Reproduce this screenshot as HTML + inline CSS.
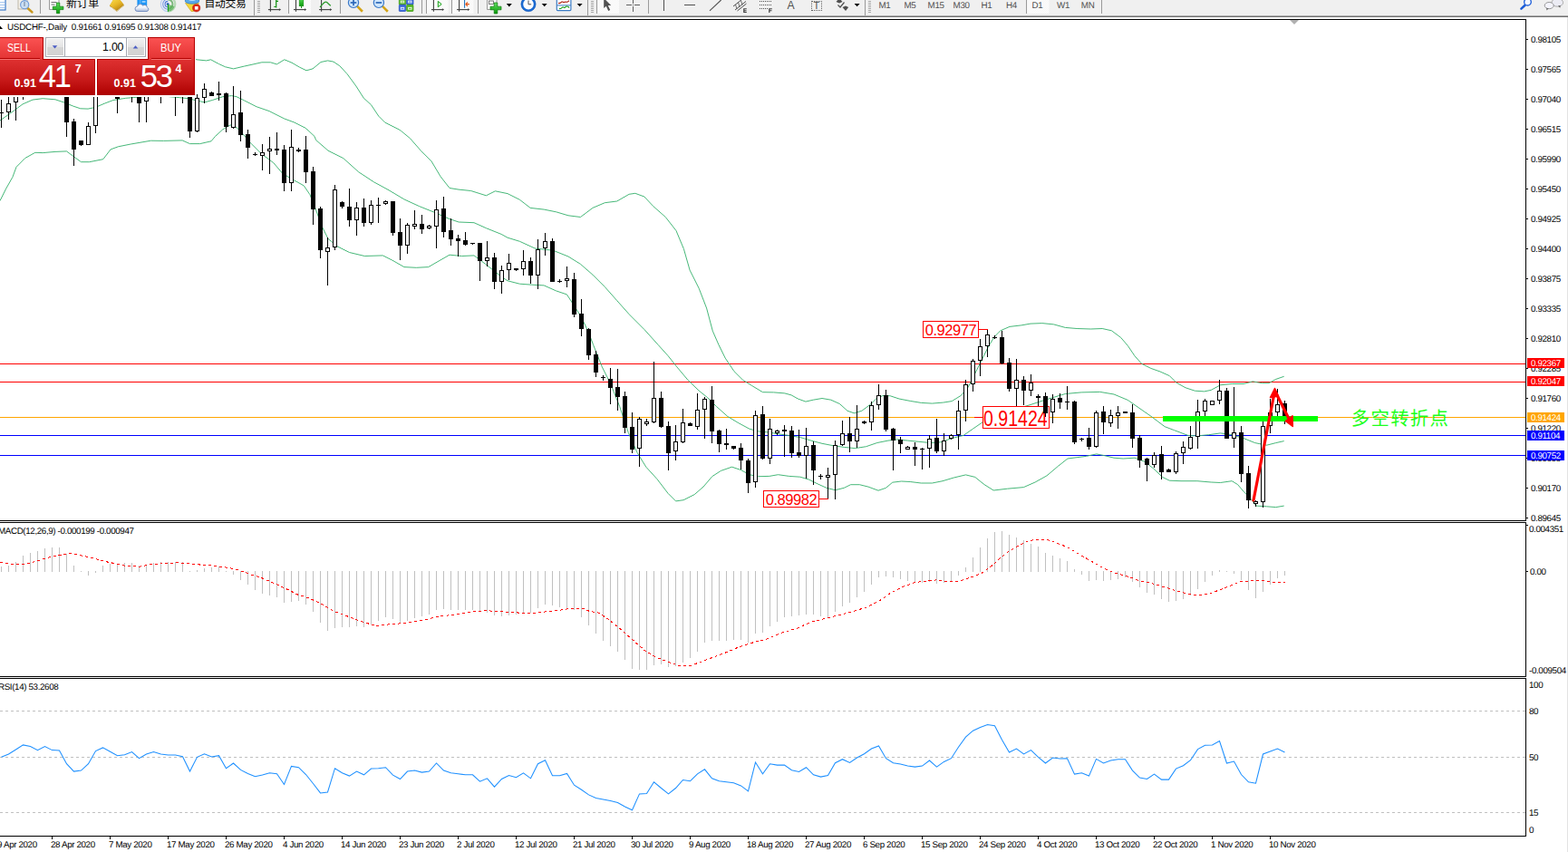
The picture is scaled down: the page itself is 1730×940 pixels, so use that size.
<!DOCTYPE html><html><head><meta charset="utf-8"><title>USDCHF Daily</title><style>
html,body{margin:0;padding:0;background:#fff;}
body{width:1730px;height:940px;overflow:hidden;position:relative;font-family:"Liberation Sans",sans-serif;color:#000;}
.abs{position:absolute;white-space:nowrap;}
.t{position:absolute;white-space:nowrap;font-size:9.8px;line-height:10px;letter-spacing:-0.37px;color:#000;margin-top:0.5px;text-rendering:geometricPrecision;}
.pl{position:absolute;left:1685px;width:41px;height:11px;box-sizing:border-box;padding-top:1px;overflow:hidden;color:#fff;font-size:9.8px;line-height:11px;letter-spacing:-0.37px;text-indent:4px;text-rendering:geometricPrecision;white-space:nowrap;}
.tf{position:absolute;top:0;font-size:10px;line-height:12px;color:#505050;white-space:nowrap;text-rendering:geometricPrecision;}
.sep{position:absolute;top:0;width:1px;height:15px;background:#a0a0a0;}
.lbl{position:absolute;box-sizing:border-box;border:1px solid #ff0000;background:#fff;color:#ff0000;white-space:nowrap;text-align:center;}
svg{position:absolute;left:0;top:0;}
</style></head><body>
<div class="abs" style="left:0;top:0;width:1730px;height:17px;background:#f0f0f0;"></div>
<div class="abs" style="left:0;top:17px;width:1730px;height:1px;background:#ababab;"></div>
<div class="abs" style="left:0;top:18px;width:1730px;height:1px;background:#707070;"></div>
<div class="abs" style="left:1729px;top:19px;width:1px;height:921px;background:#e3e3e3;"></div>
<svg width="1730" height="940" viewBox="0 0 1730 940">
<g shape-rendering="crispEdges" fill="#000">
<rect x="0" y="21" width="1684" height="1"/>
<rect x="1683" y="21" width="1" height="902"/>
<rect x="0" y="574" width="1684" height="1"/>
<rect x="0" y="576" width="1684" height="1"/>
<rect x="0" y="746" width="1684" height="1"/>
<rect x="0" y="748" width="1684" height="1"/>
<rect x="0" y="922" width="1684" height="1"/>
<rect x="1683" y="575" width="1" height="1" fill="#fff"/>
<rect x="1683" y="747" width="1" height="1" fill="#fff"/>
<rect x="1684" y="43" width="2" height="1"/>
<rect x="1684" y="76" width="2" height="1"/>
<rect x="1684" y="109" width="2" height="1"/>
<rect x="1684" y="142" width="2" height="1"/>
<rect x="1684" y="175" width="2" height="1"/>
<rect x="1684" y="208" width="2" height="1"/>
<rect x="1684" y="241" width="2" height="1"/>
<rect x="1684" y="274" width="2" height="1"/>
<rect x="1684" y="307" width="2" height="1"/>
<rect x="1684" y="340" width="2" height="1"/>
<rect x="1684" y="373" width="2" height="1"/>
<rect x="1684" y="406" width="2" height="1"/>
<rect x="1684" y="439" width="2" height="1"/>
<rect x="1684" y="472" width="2" height="1"/>
<rect x="1684" y="505" width="2" height="1"/>
<rect x="1684" y="538" width="2" height="1"/>
<rect x="1684" y="571" width="2" height="1"/>
<rect x="1684" y="579" width="2" height="1"/>
<rect x="1684" y="630" width="2" height="1"/>
<rect x="57" y="923" width="1" height="3"/>
<rect x="121" y="923" width="1" height="3"/>
<rect x="185" y="923" width="1" height="3"/>
<rect x="249" y="923" width="1" height="3"/>
<rect x="313" y="923" width="1" height="3"/>
<rect x="377" y="923" width="1" height="3"/>
<rect x="441" y="923" width="1" height="3"/>
<rect x="505" y="923" width="1" height="3"/>
<rect x="569" y="923" width="1" height="3"/>
<rect x="633" y="923" width="1" height="3"/>
<rect x="697" y="923" width="1" height="3"/>
<rect x="761" y="923" width="1" height="3"/>
<rect x="825" y="923" width="1" height="3"/>
<rect x="889" y="923" width="1" height="3"/>
<rect x="953" y="923" width="1" height="3"/>
<rect x="1017" y="923" width="1" height="3"/>
<rect x="1081" y="923" width="1" height="3"/>
<rect x="1145" y="923" width="1" height="3"/>
<rect x="1209" y="923" width="1" height="3"/>
<rect x="1273" y="923" width="1" height="3"/>
<rect x="1337" y="923" width="1" height="3"/>
<rect x="1401" y="923" width="1" height="3"/>
</g>
<g shape-rendering="crispEdges" stroke="#c0c0c0" stroke-width="1" stroke-dasharray="3 3">
<line x1="0" y1="784.5" x2="1683" y2="784.5"/>
<line x1="0" y1="835.5" x2="1683" y2="835.5"/>
<line x1="0" y1="896.5" x2="1683" y2="896.5"/>
</g>
<g shape-rendering="crispEdges">
<rect x="0" y="401" width="1683" height="1" fill="#ff0000"/>
<rect x="0" y="421" width="1683" height="1" fill="#ff0000"/>
<rect x="0" y="460" width="1683" height="1" fill="#ffa500"/>
<rect x="0" y="480" width="1683" height="1" fill="#0000ff"/>
<rect x="0" y="502" width="1683" height="1" fill="#0000ff"/>
</g>
<g shape-rendering="crispEdges" fill="#c0c0c0"><rect x="1" y="625" width="1" height="6"/><rect x="9" y="624" width="1" height="7"/><rect x="17" y="620" width="1" height="11"/><rect x="25" y="613" width="1" height="18"/><rect x="33" y="610" width="1" height="21"/><rect x="41" y="608" width="1" height="23"/><rect x="49" y="605" width="1" height="26"/><rect x="57" y="604" width="1" height="27"/><rect x="65" y="604" width="1" height="27"/><rect x="73" y="611" width="1" height="20"/><rect x="81" y="624" width="1" height="7"/><rect x="89" y="630" width="1" height="1"/><rect x="97" y="630" width="1" height="5"/><rect x="105" y="630" width="1" height="2"/><rect x="113" y="624" width="1" height="7"/><rect x="121" y="622" width="1" height="9"/><rect x="129" y="622" width="1" height="9"/><rect x="137" y="621" width="1" height="10"/><rect x="145" y="621" width="1" height="10"/><rect x="153" y="624" width="1" height="7"/><rect x="161" y="623" width="1" height="8"/><rect x="169" y="621" width="1" height="10"/><rect x="177" y="620" width="1" height="11"/><rect x="185" y="620" width="1" height="11"/><rect x="193" y="620" width="1" height="11"/><rect x="201" y="620" width="1" height="11"/><rect x="209" y="630" width="1" height="1"/><rect x="217" y="629" width="1" height="2"/><rect x="225" y="627" width="1" height="4"/><rect x="233" y="626" width="1" height="5"/><rect x="241" y="625" width="1" height="6"/><rect x="249" y="630" width="1" height="1"/><rect x="257" y="630" width="1" height="4"/><rect x="265" y="630" width="1" height="10"/><rect x="273" y="630" width="1" height="15"/><rect x="281" y="630" width="1" height="21"/><rect x="289" y="630" width="1" height="25"/><rect x="297" y="630" width="1" height="27"/><rect x="305" y="630" width="1" height="29"/><rect x="313" y="630" width="1" height="35"/><rect x="321" y="630" width="1" height="34"/><rect x="329" y="630" width="1" height="33"/><rect x="337" y="630" width="1" height="37"/><rect x="345" y="630" width="1" height="45"/><rect x="353" y="630" width="1" height="57"/><rect x="361" y="630" width="1" height="66"/><rect x="369" y="630" width="1" height="63"/><rect x="377" y="630" width="1" height="62"/><rect x="385" y="630" width="1" height="62"/><rect x="393" y="630" width="1" height="61"/><rect x="401" y="630" width="1" height="62"/><rect x="409" y="630" width="1" height="59"/><rect x="417" y="630" width="1" height="55"/><rect x="425" y="630" width="1" height="51"/><rect x="433" y="630" width="1" height="53"/><rect x="441" y="630" width="1" height="57"/><rect x="449" y="630" width="1" height="55"/><rect x="457" y="630" width="1" height="52"/><rect x="465" y="630" width="1" height="50"/><rect x="473" y="630" width="1" height="48"/><rect x="481" y="630" width="1" height="43"/><rect x="489" y="630" width="1" height="42"/><rect x="497" y="630" width="1" height="43"/><rect x="505" y="630" width="1" height="43"/><rect x="513" y="630" width="1" height="43"/><rect x="521" y="630" width="1" height="43"/><rect x="529" y="630" width="1" height="45"/><rect x="537" y="630" width="1" height="46"/><rect x="545" y="630" width="1" height="49"/><rect x="553" y="630" width="1" height="50"/><rect x="561" y="630" width="1" height="49"/><rect x="569" y="630" width="1" height="48"/><rect x="577" y="630" width="1" height="47"/><rect x="585" y="630" width="1" height="46"/><rect x="593" y="630" width="1" height="41"/><rect x="601" y="630" width="1" height="37"/><rect x="609" y="630" width="1" height="38"/><rect x="617" y="630" width="1" height="40"/><rect x="625" y="630" width="1" height="41"/><rect x="633" y="630" width="1" height="43"/><rect x="641" y="630" width="1" height="51"/><rect x="649" y="630" width="1" height="60"/><rect x="657" y="630" width="1" height="69"/><rect x="665" y="630" width="1" height="77"/><rect x="673" y="630" width="1" height="83"/><rect x="681" y="630" width="1" height="89"/><rect x="689" y="630" width="1" height="98"/><rect x="697" y="630" width="1" height="108"/><rect x="705" y="630" width="1" height="109"/><rect x="713" y="630" width="1" height="109"/><rect x="721" y="630" width="1" height="104"/><rect x="729" y="630" width="1" height="103"/><rect x="737" y="630" width="1" height="106"/><rect x="745" y="630" width="1" height="105"/><rect x="753" y="630" width="1" height="101"/><rect x="761" y="630" width="1" height="96"/><rect x="769" y="630" width="1" height="89"/><rect x="777" y="630" width="1" height="79"/><rect x="785" y="630" width="1" height="77"/><rect x="793" y="630" width="1" height="77"/><rect x="801" y="630" width="1" height="77"/><rect x="809" y="630" width="1" height="76"/><rect x="817" y="630" width="1" height="76"/><rect x="825" y="630" width="1" height="79"/><rect x="833" y="630" width="1" height="69"/><rect x="841" y="630" width="1" height="68"/><rect x="849" y="630" width="1" height="61"/><rect x="857" y="630" width="1" height="56"/><rect x="865" y="630" width="1" height="51"/><rect x="873" y="630" width="1" height="50"/><rect x="881" y="630" width="1" height="49"/><rect x="889" y="630" width="1" height="48"/><rect x="897" y="630" width="1" height="48"/><rect x="905" y="630" width="1" height="50"/><rect x="913" y="630" width="1" height="52"/><rect x="921" y="630" width="1" height="45"/><rect x="929" y="630" width="1" height="39"/><rect x="937" y="630" width="1" height="35"/><rect x="945" y="630" width="1" height="29"/><rect x="953" y="630" width="1" height="23"/><rect x="961" y="630" width="1" height="15"/><rect x="969" y="630" width="1" height="7"/><rect x="977" y="630" width="1" height="6"/><rect x="985" y="630" width="1" height="7"/><rect x="993" y="630" width="1" height="9"/><rect x="1001" y="630" width="1" height="11"/><rect x="1009" y="630" width="1" height="12"/><rect x="1017" y="630" width="1" height="13"/><rect x="1025" y="630" width="1" height="12"/><rect x="1033" y="630" width="1" height="14"/><rect x="1041" y="630" width="1" height="13"/><rect x="1049" y="630" width="1" height="11"/><rect x="1057" y="630" width="1" height="5"/><rect x="1065" y="626" width="1" height="5"/><rect x="1073" y="615" width="1" height="16"/><rect x="1081" y="604" width="1" height="27"/><rect x="1089" y="594" width="1" height="37"/><rect x="1097" y="587" width="1" height="44"/><rect x="1105" y="586" width="1" height="45"/><rect x="1113" y="590" width="1" height="41"/><rect x="1121" y="593" width="1" height="38"/><rect x="1129" y="596" width="1" height="35"/><rect x="1137" y="600" width="1" height="31"/><rect x="1145" y="603" width="1" height="28"/><rect x="1153" y="610" width="1" height="21"/><rect x="1161" y="613" width="1" height="18"/><rect x="1169" y="616" width="1" height="15"/><rect x="1177" y="619" width="1" height="12"/><rect x="1185" y="628" width="1" height="3"/><rect x="1193" y="630" width="1" height="4"/><rect x="1201" y="630" width="1" height="11"/><rect x="1209" y="630" width="1" height="10"/><rect x="1217" y="630" width="1" height="11"/><rect x="1225" y="630" width="1" height="10"/><rect x="1233" y="630" width="1" height="9"/><rect x="1241" y="630" width="1" height="7"/><rect x="1249" y="630" width="1" height="12"/><rect x="1257" y="630" width="1" height="18"/><rect x="1265" y="630" width="1" height="24"/><rect x="1273" y="630" width="1" height="26"/><rect x="1281" y="630" width="1" height="31"/><rect x="1289" y="630" width="1" height="34"/><rect x="1297" y="630" width="1" height="33"/><rect x="1305" y="630" width="1" height="31"/><rect x="1313" y="630" width="1" height="27"/><rect x="1321" y="630" width="1" height="20"/><rect x="1329" y="630" width="1" height="12"/><rect x="1337" y="630" width="1" height="5"/><rect x="1345" y="629" width="1" height="2"/><rect x="1353" y="630" width="1" height="1"/><rect x="1361" y="630" width="1" height="3"/><rect x="1369" y="630" width="1" height="10"/><rect x="1377" y="630" width="1" height="21"/><rect x="1385" y="630" width="1" height="30"/><rect x="1393" y="630" width="1" height="23"/><rect x="1401" y="630" width="1" height="15"/><rect x="1409" y="630" width="1" height="8"/><rect x="1417" y="630" width="1" height="5"/></g>
<polyline points="0.0,620.1 13.4,622.5 26.8,622.5 40.2,619.1 53.6,615.1 67.0,612.4 77.0,610.7 87.2,612.4 100.6,615.1 114.0,619.1 127.4,621.8 140.8,624.8 154.2,625.1 167.6,622.5 181.0,621.8 194.4,620.8 207.8,621.5 221.3,623.1 234.7,624.1 248.0,625.8 261.5,628.2 274.9,633.2 288.3,637.5 301.7,643.2 315.1,649.3 328.5,656.0 341.9,660.3 355.3,666.7 368.8,674.4 382.2,679.5 395.6,684.5 409.0,688.8 417.4,690.5 429.0,688.8 442.5,687.8 455.9,686.2 469.3,683.8 482.7,680.1 496.1,678.8 509.6,676.8 523.0,674.4 536.4,673.8 549.8,674.4 560.0,675.4 573.4,676.1 586.8,676.4 600.2,675.1 613.6,673.8 627.0,671.7 643.8,671.7 650.5,674.4 660.6,676.1 670.6,682.8 684.0,693.5 697.4,705.3 710.9,717.3 724.3,725.4 737.7,730.4 747.7,734.1 761.1,734.8 774.5,729.7 788.0,724.7 801.4,719.7 814.8,714.0 828.2,709.6 845.0,705.3 861.7,698.5 878.5,693.5 895.2,686.2 908.6,682.8 922.0,679.5 938.8,675.4 955.6,670.1 969.0,663.7 982.4,654.3 995.8,647.6 1009.2,642.6 1022.6,640.9 1032.7,639.9 1042.7,641.6 1056.1,641.9 1069.6,637.5 1083.0,632.5 1096.4,622.5 1103.4,615.8 1113.4,608.0 1123.5,602.3 1133.5,597.3 1143.6,595.0 1153.6,595.0 1163.7,598.3 1177.1,603.4 1190.5,611.4 1203.9,619.1 1217.3,626.8 1230.7,632.5 1244.1,635.9 1257.6,640.9 1271.0,643.6 1284.4,647.6 1297.8,652.0 1311.2,655.3 1321.3,656.7 1334.7,655.0 1348.1,649.9 1358.1,645.9 1368.2,641.9 1381.6,640.9 1395.0,640.9 1405.0,642.2 1417.5,642.9" fill="none" stroke="#ff0000" stroke-width="1" stroke-dasharray="3 3" shape-rendering="crispEdges"/>
<polyline points="1.5,835.3 9.5,832.0 17.5,827.0 25.5,821.9 33.5,823.6 41.5,827.6 49.5,823.6 57.5,827.6 65.5,828.0 73.5,842.7 81.5,851.1 89.5,850.1 97.5,842.7 105.5,828.6 113.5,824.9 121.5,829.3 129.5,833.7 137.5,832.7 145.5,829.6 153.5,836.7 161.5,832.0 169.5,829.6 177.5,832.0 185.5,833.0 193.5,833.0 201.5,834.7 209.5,851.1 217.5,835.3 225.5,831.7 233.5,835.0 241.5,833.7 249.5,847.7 257.5,842.0 265.5,849.4 273.5,853.4 281.5,856.8 289.5,855.1 297.5,852.8 305.5,853.8 313.5,865.5 321.5,845.4 329.5,846.7 337.5,854.5 345.5,864.5 353.5,874.9 361.5,873.9 369.5,847.7 377.5,852.8 385.5,856.1 393.5,851.1 401.5,854.8 409.5,848.1 417.5,847.7 425.5,846.7 433.5,855.1 441.5,859.5 449.5,851.1 457.5,850.1 465.5,852.1 473.5,851.1 481.5,842.0 489.5,850.1 497.5,852.8 505.5,853.8 513.5,854.8 521.5,854.8 529.5,862.2 537.5,858.8 545.5,868.2 553.5,859.5 561.5,855.5 569.5,857.8 577.5,852.8 585.5,858.8 593.5,842.7 601.5,838.7 609.5,855.8 617.5,855.8 625.5,853.4 633.5,866.2 641.5,871.2 649.5,876.9 657.5,880.6 665.5,881.9 673.5,883.6 681.5,885.6 689.5,890.0 697.5,893.7 705.5,875.9 713.5,875.6 721.5,862.8 729.5,869.5 737.5,875.9 745.5,869.5 753.5,860.5 761.5,861.8 769.5,853.8 777.5,848.8 785.5,858.8 793.5,861.8 801.5,862.8 809.5,863.8 817.5,866.9 825.5,872.9 833.5,841.0 841.5,853.8 849.5,842.7 857.5,844.1 865.5,844.1 873.5,849.8 881.5,851.4 889.5,846.7 897.5,854.8 905.5,857.1 913.5,855.5 921.5,841.7 929.5,837.7 937.5,841.4 945.5,836.0 953.5,831.7 961.5,826.0 969.5,822.9 977.5,836.7 985.5,841.7 993.5,843.1 1001.5,845.1 1009.5,846.1 1017.5,845.1 1025.5,839.0 1033.5,846.1 1041.5,840.4 1049.5,836.7 1057.5,824.3 1065.5,813.2 1073.5,806.2 1081.5,802.5 1089.5,799.5 1097.5,800.8 1105.5,816.2 1113.5,830.0 1121.5,826.0 1129.5,832.0 1137.5,827.6 1145.5,835.3 1153.5,842.0 1161.5,836.0 1169.5,837.0 1177.5,836.7 1185.5,854.1 1193.5,852.8 1201.5,856.1 1209.5,837.4 1217.5,842.0 1225.5,839.0 1233.5,837.7 1241.5,837.7 1249.5,850.1 1257.5,858.1 1265.5,859.5 1273.5,854.1 1281.5,860.1 1289.5,860.1 1297.5,848.1 1305.5,844.7 1313.5,838.7 1321.5,826.6 1329.5,822.3 1337.5,821.9 1345.5,817.6 1353.5,842.0 1361.5,840.0 1369.5,854.5 1377.5,862.8 1385.5,864.2 1393.5,832.0 1401.5,829.0 1409.5,826.0 1417.5,830.0" fill="none" stroke="#1e90ff" stroke-width="1.05"/>
<polyline points="214.5,64.6 216.9,65.8 227.7,66.9 232.6,65.8 241.6,70.6 248.6,73.8 257.6,75.9 269.4,73.1 279.0,71.0 288.8,68.8 298.5,68.8 305.4,70.9 313.8,65.8 322.0,69.2 330.4,74.1 338.0,77.8 345.0,75.9 354.0,68.5 361.6,66.9 367.9,68.1 374.8,72.7 383.1,81.7 392.8,94.9 401.2,108.1 409.5,115.7 417.8,128.2 424.7,135.1 440.0,142.8 442.5,144.4 452.6,152.8 464.3,166.2 476.0,177.9 486.0,194.7 496.0,207.5 506.0,209.1 519.6,210.5 536.4,215.8 546.4,210.8 560.0,213.6 573.4,220.3 585.1,229.4 600.2,231.1 613.6,233.8 627.0,237.8 640.5,239.5 653.9,229.4 667.3,223.7 680.7,222.0 694.1,214.3 700.8,213.3 710.9,217.0 720.9,227.7 734.3,239.5 746.0,254.5 754.4,274.6 761.1,298.1 771.2,318.2 779.6,340.0 786.3,365.2 793.0,380.5 800.2,395.1 809.9,409.6 819.7,419.3 829.4,425.4 841.5,432.7 853.6,432.9 865.8,433.9 873.1,435.9 880.4,440.0 888.9,443.1 897.3,441.2 907.0,439.5 916.8,441.2 926.5,445.6 935.0,453.3 942.3,455.8 950.8,453.3 960.5,446.1 967.8,438.8 975.0,436.3 982.3,436.8 992.0,440.0 1004.2,442.4 1016.3,444.4 1028.4,445.1 1040.6,444.1 1050.2,442.6 1060.4,436.3 1068.0,427.3 1075.8,412.0 1083.4,396.7 1091.0,381.4 1097.5,371.1 1103.8,364.8 1114.0,360.4 1126.8,358.9 1137.0,357.1 1149.8,356.6 1162.6,357.9 1175.3,361.4 1188.1,362.5 1203.4,363.0 1216.2,362.5 1226.4,364.8 1236.6,372.4 1244.3,381.4 1252.0,392.8 1259.6,401.3 1269.8,406.4 1280.0,410.0 1290.3,414.6 1297.9,422.2 1308.1,427.8 1318.3,431.2 1328.6,431.9 1336.2,430.4 1346.4,424.8 1359.2,423.5 1372.0,423.5 1382.2,420.9 1392.4,422.7 1400.0,422.7 1407.7,418.4 1416.7,415.3" fill="none" stroke="#3cb371" stroke-width="0.95"/>
<polyline points="0.0,133.0 13.9,123.2 25.0,114.9 36.0,110.1 47.2,108.7 61.0,109.8 72.1,113.5 80.5,117.0 88.8,119.8 97.1,120.1 105.4,118.4 115.2,114.2 124.9,110.5 138.7,108.3 160.0,106.5 180.0,106.0 198.4,107.7 208.0,108.7 216.4,110.8 225.7,112.9 234.7,110.4 245.8,106.7 255.5,105.6 261.0,106.7 269.4,110.8 283.2,117.8 297.1,122.6 313.8,131.0 324.9,135.1 337.3,141.4 347.0,150.4 348.6,154.5 362.0,166.2 378.8,174.6 395.6,189.7 412.3,200.7 429.0,209.8 445.9,219.9 462.6,227.6 479.4,234.3 496.0,241.6 506.2,245.0 523.0,245.7 536.4,251.7 553.1,258.4 560.0,262.2 573.4,266.3 590.2,274.0 610.3,276.3 627.0,283.0 640.5,291.4 653.9,303.1 667.3,316.5 680.7,331.6 694.1,346.7 710.9,363.5 726.2,380.5 737.1,392.6 746.8,404.8 759.0,419.3 771.1,431.0 780.8,438.8 790.5,448.5 802.7,459.4 814.8,466.7 826.9,473.2 836.7,475.9 848.8,477.1 858.5,478.8 870.6,480.5 882.8,482.5 894.9,486.1 907.0,489.3 919.2,491.7 931.3,493.4 943.5,494.6 955.6,492.7 967.8,488.5 979.9,486.1 989.6,484.9 1001.7,486.1 1013.9,487.3 1026.0,488.5 1038.2,487.8 1050.2,483.5 1063.0,480.4 1073.2,473.3 1084.4,465.6 1100.0,458.5 1129.4,448.8 1137.0,446.5 1152.4,441.4 1175.3,434.5 1193.2,432.9 1213.6,432.4 1229.0,435.0 1244.3,441.4 1257.0,450.3 1269.8,459.2 1285.1,470.7 1295.4,474.6 1310.7,480.4 1320.9,480.9 1333.7,479.7 1346.4,477.9 1359.2,479.7 1372.0,483.5 1384.7,488.6 1397.5,491.2 1407.7,488.6 1416.7,486.6" fill="none" stroke="#3cb371" stroke-width="0.95"/>
<polyline points="0.0,221.5 6.7,208.1 13.9,195.4 18.0,184.3 27.7,174.5 38.8,168.3 47.2,168.6 61.0,167.4 73.5,166.9 81.9,173.2 89.5,178.7 98.5,178.7 113.8,175.7 122.0,164.9 130.4,161.8 144.3,159.0 166.5,155.2 180.4,155.4 201.2,154.9 209.5,158.6 220.6,158.6 233.0,155.8 237.5,150.4 245.8,142.8 254.1,137.9 261.0,140.7 268.0,147.6 274.9,156.2 288.3,169.6 301.7,179.6 311.8,191.4 321.8,197.4 335.2,204.8 342.0,214.8 348.6,231.6 355.3,250.0 362.0,263.4 372.1,271.8 385.5,278.5 402.3,282.5 422.4,281.9 432.4,286.9 445.9,294.6 459.3,295.3 472.7,294.6 486.0,286.9 496.0,281.2 509.6,282.5 523.0,281.9 536.4,291.9 553.1,305.3 560.0,309.8 573.4,313.2 586.8,314.2 600.2,314.9 613.6,320.9 625.4,324.9 632.0,335.0 640.5,348.4 648.8,365.2 654.6,380.5 664.3,404.8 674.0,424.2 683.7,448.5 693.4,477.6 703.1,499.5 712.8,515.2 725.0,528.6 737.1,544.4 745.6,552.9 754.1,551.7 766.2,545.6 776.0,537.1 785.7,525.7 795.4,519.4 807.5,515.2 817.2,518.4 826.9,523.7 836.7,525.7 848.8,525.4 858.5,523.7 870.6,525.4 882.8,526.2 892.5,529.1 902.2,533.9 911.9,538.3 921.6,540.7 931.3,538.3 938.6,534.7 948.3,534.7 958.0,537.1 969.0,541.2 977.5,538.3 984.7,532.2 994.5,531.0 1004.2,531.5 1016.3,533.0 1028.4,533.0 1040.0,530.7 1052.8,526.9 1065.5,523.9 1075.8,526.4 1086.0,534.6 1096.2,541.0 1111.5,539.2 1129.4,537.6 1142.1,532.0 1154.9,524.9 1167.7,514.1 1177.9,506.0 1188.1,504.7 1198.3,503.4 1209.8,500.9 1218.8,502.7 1229.0,505.2 1239.2,506.0 1252.0,505.2 1262.2,509.0 1272.4,516.7 1282.6,526.4 1290.3,530.2 1303.0,530.7 1320.9,530.7 1336.2,532.0 1346.4,532.5 1359.2,530.7 1365.6,534.6 1372.0,542.2 1379.6,549.9 1386.0,558.1 1397.5,558.8 1407.7,559.6 1416.7,558.1" fill="none" stroke="#3cb371" stroke-width="0.95"/>
<g shape-rendering="crispEdges" fill="#000"><rect x="1" y="110" width="1" height="31"/><rect x="-1" y="124" width="5" height="1"/><rect x="9" y="100" width="1" height="32"/><rect x="7" y="114" width="5" height="10"/><rect x="8" y="115" width="3" height="8" fill="#fff"/><rect x="17" y="95" width="1" height="38"/><rect x="15" y="100" width="5" height="13"/><rect x="16" y="101" width="3" height="11" fill="#fff"/><rect x="25" y="92" width="1" height="18"/><rect x="23" y="98" width="5" height="3"/><rect x="24" y="99" width="3" height="1" fill="#fff"/><rect x="33" y="90" width="1" height="14"/><rect x="31" y="95" width="5" height="5"/><rect x="41" y="88" width="1" height="15"/><rect x="39" y="92" width="5" height="7"/><rect x="40" y="93" width="3" height="5" fill="#fff"/><rect x="49" y="86" width="1" height="17"/><rect x="47" y="90" width="5" height="6"/><rect x="48" y="91" width="3" height="4" fill="#fff"/><rect x="57" y="84" width="1" height="19"/><rect x="55" y="88" width="5" height="6"/><rect x="65" y="84" width="1" height="19"/><rect x="63" y="88" width="5" height="12"/><rect x="64" y="89" width="3" height="10" fill="#fff"/><rect x="73" y="95" width="1" height="56"/><rect x="71" y="100" width="5" height="35"/><rect x="81" y="131" width="1" height="52"/><rect x="79" y="134" width="5" height="31"/><rect x="89" y="155" width="1" height="6"/><rect x="87" y="155" width="5" height="5"/><rect x="97" y="135" width="1" height="25"/><rect x="95" y="139" width="5" height="21"/><rect x="96" y="140" width="3" height="19" fill="#fff"/><rect x="105" y="98" width="1" height="49"/><rect x="103" y="100" width="5" height="39"/><rect x="104" y="101" width="3" height="37" fill="#fff"/><rect x="113" y="92" width="1" height="12"/><rect x="111" y="96" width="5" height="4"/><rect x="112" y="97" width="3" height="2" fill="#fff"/><rect x="121" y="92" width="1" height="12"/><rect x="119" y="96" width="5" height="6"/><rect x="129" y="95" width="1" height="30"/><rect x="127" y="100" width="5" height="9"/><rect x="137" y="92" width="1" height="12"/><rect x="135" y="96" width="5" height="4"/><rect x="136" y="97" width="3" height="2" fill="#fff"/><rect x="145" y="95" width="1" height="18"/><rect x="143" y="100" width="5" height="4"/><rect x="144" y="101" width="3" height="2" fill="#fff"/><rect x="153" y="95" width="1" height="40"/><rect x="151" y="98" width="5" height="16"/><rect x="161" y="95" width="1" height="40"/><rect x="159" y="98" width="5" height="14"/><rect x="160" y="99" width="3" height="12" fill="#fff"/><rect x="169" y="92" width="1" height="12"/><rect x="167" y="96" width="5" height="4"/><rect x="177" y="95" width="1" height="19"/><rect x="175" y="98" width="5" height="4"/><rect x="176" y="99" width="3" height="2" fill="#fff"/><rect x="185" y="92" width="1" height="12"/><rect x="183" y="96" width="5" height="4"/><rect x="193" y="95" width="1" height="33"/><rect x="191" y="98" width="5" height="5"/><rect x="201" y="95" width="1" height="19"/><rect x="199" y="98" width="5" height="5"/><rect x="200" y="99" width="3" height="3" fill="#fff"/><rect x="209" y="100" width="1" height="52"/><rect x="207" y="102" width="5" height="43"/><rect x="217" y="104" width="1" height="42"/><rect x="215" y="108" width="5" height="37"/><rect x="216" y="109" width="3" height="35" fill="#fff"/><rect x="225" y="92" width="1" height="22"/><rect x="223" y="98" width="5" height="10"/><rect x="224" y="99" width="3" height="8" fill="#fff"/><rect x="233" y="101" width="1" height="5"/><rect x="231" y="102" width="5" height="4"/><rect x="241" y="90" width="1" height="21"/><rect x="239" y="103" width="5" height="2"/><rect x="249" y="102" width="1" height="44"/><rect x="247" y="103" width="5" height="37"/><rect x="257" y="95" width="1" height="47"/><rect x="255" y="126" width="5" height="15"/><rect x="256" y="127" width="3" height="13" fill="#fff"/><rect x="265" y="100" width="1" height="56"/><rect x="263" y="124" width="5" height="25"/><rect x="273" y="143" width="1" height="32"/><rect x="271" y="148" width="5" height="15"/><rect x="281" y="168" width="1" height="4"/><rect x="279" y="170" width="5" height="1"/><rect x="289" y="159" width="1" height="29"/><rect x="287" y="168" width="5" height="4"/><rect x="288" y="169" width="3" height="2" fill="#fff"/><rect x="297" y="151" width="1" height="41"/><rect x="295" y="164" width="5" height="3"/><rect x="296" y="165" width="3" height="1" fill="#fff"/><rect x="305" y="146" width="1" height="25"/><rect x="303" y="164" width="5" height="2"/><rect x="313" y="160" width="1" height="51"/><rect x="311" y="165" width="5" height="37"/><rect x="321" y="143" width="1" height="68"/><rect x="319" y="162" width="5" height="40"/><rect x="320" y="163" width="3" height="38" fill="#fff"/><rect x="329" y="163" width="1" height="5"/><rect x="327" y="165" width="5" height="2"/><rect x="337" y="150" width="1" height="52"/><rect x="335" y="165" width="5" height="25"/><rect x="345" y="184" width="1" height="64"/><rect x="343" y="189" width="5" height="42"/><rect x="353" y="228" width="1" height="57"/><rect x="351" y="230" width="5" height="46"/><rect x="361" y="262" width="1" height="53"/><rect x="359" y="273" width="5" height="5"/><rect x="360" y="274" width="3" height="3" fill="#fff"/><rect x="369" y="204" width="1" height="72"/><rect x="367" y="209" width="5" height="64"/><rect x="368" y="210" width="3" height="62" fill="#fff"/><rect x="377" y="222" width="1" height="8"/><rect x="375" y="223" width="5" height="5"/><rect x="385" y="208" width="1" height="42"/><rect x="383" y="228" width="5" height="15"/><rect x="393" y="223" width="1" height="37"/><rect x="391" y="229" width="5" height="14"/><rect x="392" y="230" width="3" height="12" fill="#fff"/><rect x="401" y="219" width="1" height="31"/><rect x="399" y="229" width="5" height="17"/><rect x="409" y="221" width="1" height="27"/><rect x="407" y="226" width="5" height="20"/><rect x="408" y="227" width="3" height="18" fill="#fff"/><rect x="417" y="218" width="1" height="28"/><rect x="415" y="226" width="5" height="1"/><rect x="425" y="221" width="1" height="5"/><rect x="423" y="222" width="5" height="3"/><rect x="424" y="223" width="3" height="1" fill="#fff"/><rect x="433" y="222" width="1" height="38"/><rect x="431" y="222" width="5" height="35"/><rect x="441" y="241" width="1" height="46"/><rect x="439" y="256" width="5" height="15"/><rect x="449" y="246" width="1" height="34"/><rect x="447" y="248" width="5" height="23"/><rect x="448" y="249" width="3" height="21" fill="#fff"/><rect x="457" y="232" width="1" height="21"/><rect x="455" y="247" width="5" height="3"/><rect x="456" y="248" width="3" height="1" fill="#fff"/><rect x="465" y="237" width="1" height="21"/><rect x="463" y="247" width="5" height="6"/><rect x="473" y="248" width="1" height="5"/><rect x="471" y="249" width="5" height="3"/><rect x="472" y="250" width="3" height="1" fill="#fff"/><rect x="481" y="221" width="1" height="53"/><rect x="479" y="231" width="5" height="19"/><rect x="480" y="232" width="3" height="17" fill="#fff"/><rect x="489" y="217" width="1" height="45"/><rect x="487" y="230" width="5" height="26"/><rect x="497" y="241" width="1" height="30"/><rect x="495" y="254" width="5" height="10"/><rect x="505" y="259" width="1" height="24"/><rect x="503" y="263" width="5" height="3"/><rect x="513" y="256" width="1" height="15"/><rect x="511" y="265" width="5" height="5"/><rect x="521" y="268" width="1" height="2"/><rect x="519" y="268" width="5" height="1"/><rect x="529" y="268" width="1" height="42"/><rect x="527" y="268" width="5" height="20"/><rect x="537" y="266" width="1" height="28"/><rect x="535" y="284" width="5" height="4"/><rect x="536" y="285" width="3" height="2" fill="#fff"/><rect x="545" y="279" width="1" height="40"/><rect x="543" y="284" width="5" height="27"/><rect x="553" y="293" width="1" height="31"/><rect x="551" y="298" width="5" height="13"/><rect x="552" y="299" width="3" height="11" fill="#fff"/><rect x="561" y="280" width="1" height="29"/><rect x="559" y="290" width="5" height="8"/><rect x="560" y="291" width="3" height="6" fill="#fff"/><rect x="569" y="296" width="1" height="3"/><rect x="567" y="296" width="5" height="2"/><rect x="577" y="276" width="1" height="28"/><rect x="575" y="288" width="5" height="9"/><rect x="576" y="289" width="3" height="7" fill="#fff"/><rect x="585" y="284" width="1" height="29"/><rect x="583" y="288" width="5" height="16"/><rect x="593" y="264" width="1" height="55"/><rect x="591" y="275" width="5" height="29"/><rect x="592" y="276" width="3" height="27" fill="#fff"/><rect x="601" y="257" width="1" height="25"/><rect x="599" y="266" width="5" height="8"/><rect x="600" y="267" width="3" height="6" fill="#fff"/><rect x="609" y="263" width="1" height="48"/><rect x="607" y="266" width="5" height="45"/><rect x="617" y="308" width="1" height="4"/><rect x="615" y="310" width="5" height="1"/><rect x="625" y="294" width="1" height="23"/><rect x="623" y="307" width="5" height="3"/><rect x="624" y="308" width="3" height="1" fill="#fff"/><rect x="633" y="301" width="1" height="49"/><rect x="631" y="308" width="5" height="39"/><rect x="641" y="330" width="1" height="41"/><rect x="639" y="346" width="5" height="17"/><rect x="649" y="362" width="1" height="35"/><rect x="647" y="363" width="5" height="29"/><rect x="657" y="387" width="1" height="29"/><rect x="655" y="391" width="5" height="20"/><rect x="665" y="414" width="1" height="6"/><rect x="663" y="416" width="5" height="1"/><rect x="673" y="406" width="1" height="40"/><rect x="671" y="418" width="5" height="10"/><rect x="681" y="407" width="1" height="46"/><rect x="679" y="427" width="5" height="11"/><rect x="689" y="432" width="1" height="46"/><rect x="687" y="437" width="5" height="35"/><rect x="697" y="455" width="1" height="45"/><rect x="695" y="471" width="5" height="25"/><rect x="705" y="460" width="1" height="55"/><rect x="703" y="462" width="5" height="33"/><rect x="704" y="463" width="3" height="31" fill="#fff"/><rect x="713" y="462" width="1" height="8"/><rect x="711" y="465" width="5" height="3"/><rect x="712" y="466" width="3" height="1" fill="#fff"/><rect x="721" y="399" width="1" height="68"/><rect x="719" y="439" width="5" height="27"/><rect x="720" y="440" width="3" height="25" fill="#fff"/><rect x="729" y="432" width="1" height="40"/><rect x="727" y="439" width="5" height="32"/><rect x="737" y="465" width="1" height="54"/><rect x="735" y="470" width="5" height="30"/><rect x="745" y="469" width="1" height="39"/><rect x="743" y="487" width="5" height="11"/><rect x="744" y="488" width="3" height="9" fill="#fff"/><rect x="753" y="451" width="1" height="38"/><rect x="751" y="466" width="5" height="22"/><rect x="752" y="467" width="3" height="20" fill="#fff"/><rect x="761" y="466" width="1" height="4"/><rect x="759" y="467" width="5" height="3"/><rect x="769" y="434" width="1" height="40"/><rect x="767" y="452" width="5" height="19"/><rect x="768" y="453" width="3" height="17" fill="#fff"/><rect x="777" y="438" width="1" height="46"/><rect x="775" y="440" width="5" height="12"/><rect x="776" y="441" width="3" height="10" fill="#fff"/><rect x="785" y="426" width="1" height="63"/><rect x="783" y="441" width="5" height="35"/><rect x="793" y="474" width="1" height="25"/><rect x="791" y="475" width="5" height="15"/><rect x="801" y="473" width="1" height="23"/><rect x="799" y="489" width="5" height="2"/><rect x="809" y="492" width="1" height="4"/><rect x="807" y="492" width="5" height="3"/><rect x="817" y="489" width="1" height="29"/><rect x="815" y="494" width="5" height="14"/><rect x="825" y="506" width="1" height="38"/><rect x="823" y="508" width="5" height="25"/><rect x="833" y="453" width="1" height="85"/><rect x="831" y="458" width="5" height="74"/><rect x="832" y="459" width="3" height="72" fill="#fff"/><rect x="841" y="448" width="1" height="59"/><rect x="839" y="457" width="5" height="49"/><rect x="849" y="462" width="1" height="50"/><rect x="847" y="473" width="5" height="33"/><rect x="848" y="474" width="3" height="31" fill="#fff"/><rect x="857" y="474" width="1" height="6"/><rect x="855" y="475" width="5" height="3"/><rect x="856" y="476" width="3" height="1" fill="#fff"/><rect x="865" y="469" width="1" height="35"/><rect x="863" y="474" width="5" height="2"/><rect x="873" y="470" width="1" height="35"/><rect x="871" y="475" width="5" height="25"/><rect x="881" y="474" width="1" height="31"/><rect x="879" y="499" width="5" height="4"/><rect x="889" y="472" width="1" height="56"/><rect x="887" y="492" width="5" height="11"/><rect x="888" y="493" width="3" height="9" fill="#fff"/><rect x="897" y="487" width="1" height="48"/><rect x="895" y="491" width="5" height="28"/><rect x="905" y="523" width="1" height="6"/><rect x="903" y="525" width="5" height="1"/><rect x="913" y="516" width="1" height="35"/><rect x="911" y="524" width="5" height="3"/><rect x="912" y="525" width="3" height="1" fill="#fff"/><rect x="921" y="486" width="1" height="65"/><rect x="919" y="491" width="5" height="33"/><rect x="920" y="492" width="3" height="31" fill="#fff"/><rect x="929" y="464" width="1" height="28"/><rect x="927" y="478" width="5" height="13"/><rect x="928" y="479" width="3" height="11" fill="#fff"/><rect x="937" y="460" width="1" height="39"/><rect x="935" y="478" width="5" height="9"/><rect x="945" y="447" width="1" height="47"/><rect x="943" y="473" width="5" height="14"/><rect x="944" y="474" width="3" height="12" fill="#fff"/><rect x="953" y="464" width="1" height="4"/><rect x="951" y="465" width="5" height="2"/><rect x="961" y="443" width="1" height="32"/><rect x="959" y="447" width="5" height="19"/><rect x="960" y="448" width="3" height="17" fill="#fff"/><rect x="969" y="424" width="1" height="28"/><rect x="967" y="436" width="5" height="11"/><rect x="968" y="437" width="3" height="9" fill="#fff"/><rect x="977" y="430" width="1" height="46"/><rect x="975" y="436" width="5" height="38"/><rect x="985" y="472" width="1" height="47"/><rect x="983" y="473" width="5" height="13"/><rect x="993" y="482" width="1" height="18"/><rect x="991" y="485" width="5" height="5"/><rect x="1001" y="492" width="1" height="4"/><rect x="999" y="493" width="5" height="3"/><rect x="1000" y="494" width="3" height="1" fill="#fff"/><rect x="1009" y="488" width="1" height="26"/><rect x="1007" y="493" width="5" height="3"/><rect x="1017" y="494" width="1" height="24"/><rect x="1015" y="495" width="5" height="1"/><rect x="1025" y="480" width="1" height="36"/><rect x="1023" y="484" width="5" height="11"/><rect x="1024" y="485" width="3" height="9" fill="#fff"/><rect x="1033" y="462" width="1" height="38"/><rect x="1031" y="483" width="5" height="15"/><rect x="1041" y="478" width="1" height="25"/><rect x="1039" y="486" width="5" height="12"/><rect x="1040" y="487" width="3" height="10" fill="#fff"/><rect x="1049" y="479" width="1" height="6"/><rect x="1047" y="480" width="5" height="4"/><rect x="1048" y="481" width="3" height="2" fill="#fff"/><rect x="1057" y="442" width="1" height="54"/><rect x="1055" y="453" width="5" height="27"/><rect x="1056" y="454" width="3" height="25" fill="#fff"/><rect x="1065" y="419" width="1" height="46"/><rect x="1063" y="424" width="5" height="29"/><rect x="1064" y="425" width="3" height="27" fill="#fff"/><rect x="1073" y="396" width="1" height="36"/><rect x="1071" y="398" width="5" height="26"/><rect x="1072" y="399" width="3" height="24" fill="#fff"/><rect x="1081" y="374" width="1" height="41"/><rect x="1079" y="382" width="5" height="16"/><rect x="1080" y="383" width="3" height="14" fill="#fff"/><rect x="1089" y="364" width="1" height="30"/><rect x="1087" y="369" width="5" height="13"/><rect x="1088" y="370" width="3" height="11" fill="#fff"/><rect x="1097" y="370" width="1" height="4"/><rect x="1095" y="372" width="5" height="1"/><rect x="1105" y="365" width="1" height="37"/><rect x="1103" y="372" width="5" height="29"/><rect x="1113" y="395" width="1" height="37"/><rect x="1111" y="400" width="5" height="29"/><rect x="1121" y="396" width="1" height="52"/><rect x="1119" y="419" width="5" height="10"/><rect x="1120" y="420" width="3" height="8" fill="#fff"/><rect x="1129" y="415" width="1" height="32"/><rect x="1127" y="419" width="5" height="12"/><rect x="1137" y="413" width="1" height="24"/><rect x="1135" y="422" width="5" height="9"/><rect x="1136" y="423" width="3" height="7" fill="#fff"/><rect x="1145" y="435" width="1" height="13"/><rect x="1143" y="437" width="5" height="2"/><rect x="1153" y="433" width="1" height="24"/><rect x="1151" y="437" width="5" height="19"/><rect x="1161" y="435" width="1" height="32"/><rect x="1159" y="440" width="5" height="15"/><rect x="1160" y="441" width="3" height="13" fill="#fff"/><rect x="1169" y="434" width="1" height="17"/><rect x="1167" y="439" width="5" height="5"/><rect x="1177" y="426" width="1" height="26"/><rect x="1175" y="443" width="5" height="1"/><rect x="1185" y="442" width="1" height="48"/><rect x="1183" y="443" width="5" height="45"/><rect x="1193" y="483" width="1" height="4"/><rect x="1191" y="484" width="5" height="1"/><rect x="1201" y="472" width="1" height="24"/><rect x="1199" y="483" width="5" height="10"/><rect x="1209" y="453" width="1" height="41"/><rect x="1207" y="455" width="5" height="38"/><rect x="1208" y="456" width="3" height="36" fill="#fff"/><rect x="1217" y="448" width="1" height="31"/><rect x="1215" y="454" width="5" height="12"/><rect x="1225" y="452" width="1" height="19"/><rect x="1223" y="458" width="5" height="9"/><rect x="1224" y="459" width="3" height="7" fill="#fff"/><rect x="1233" y="448" width="1" height="25"/><rect x="1231" y="455" width="5" height="4"/><rect x="1232" y="456" width="3" height="2" fill="#fff"/><rect x="1241" y="454" width="1" height="2"/><rect x="1239" y="454" width="5" height="2"/><rect x="1249" y="446" width="1" height="48"/><rect x="1247" y="455" width="5" height="29"/><rect x="1257" y="480" width="1" height="36"/><rect x="1255" y="483" width="5" height="25"/><rect x="1265" y="505" width="1" height="26"/><rect x="1263" y="506" width="5" height="7"/><rect x="1273" y="499" width="1" height="17"/><rect x="1271" y="502" width="5" height="11"/><rect x="1272" y="503" width="3" height="9" fill="#fff"/><rect x="1281" y="492" width="1" height="37"/><rect x="1279" y="501" width="5" height="20"/><rect x="1289" y="517" width="1" height="4"/><rect x="1287" y="518" width="5" height="3"/><rect x="1297" y="498" width="1" height="25"/><rect x="1295" y="500" width="5" height="21"/><rect x="1296" y="501" width="3" height="19" fill="#fff"/><rect x="1305" y="487" width="1" height="25"/><rect x="1303" y="493" width="5" height="7"/><rect x="1304" y="494" width="3" height="5" fill="#fff"/><rect x="1313" y="470" width="1" height="26"/><rect x="1311" y="482" width="5" height="13"/><rect x="1312" y="483" width="3" height="11" fill="#fff"/><rect x="1321" y="441" width="1" height="54"/><rect x="1319" y="454" width="5" height="28"/><rect x="1320" y="455" width="3" height="26" fill="#fff"/><rect x="1329" y="440" width="1" height="20"/><rect x="1327" y="442" width="5" height="12"/><rect x="1328" y="443" width="3" height="10" fill="#fff"/><rect x="1337" y="442" width="1" height="5"/><rect x="1335" y="442" width="5" height="5"/><rect x="1336" y="443" width="3" height="3" fill="#fff"/><rect x="1345" y="419" width="1" height="27"/><rect x="1343" y="431" width="5" height="11"/><rect x="1344" y="432" width="3" height="9" fill="#fff"/><rect x="1353" y="428" width="1" height="56"/><rect x="1351" y="431" width="5" height="53"/><rect x="1361" y="427" width="1" height="67"/><rect x="1359" y="477" width="5" height="7"/><rect x="1360" y="478" width="3" height="5" fill="#fff"/><rect x="1369" y="470" width="1" height="62"/><rect x="1367" y="477" width="5" height="46"/><rect x="1377" y="514" width="1" height="47"/><rect x="1375" y="522" width="5" height="30"/><rect x="1385" y="552" width="1" height="7"/><rect x="1383" y="553" width="5" height="3"/><rect x="1384" y="554" width="3" height="1" fill="#fff"/><rect x="1393" y="465" width="1" height="95"/><rect x="1391" y="470" width="5" height="84"/><rect x="1392" y="471" width="3" height="82" fill="#fff"/><rect x="1401" y="440" width="1" height="38"/><rect x="1399" y="455" width="5" height="15"/><rect x="1400" y="456" width="3" height="13" fill="#fff"/><rect x="1409" y="429" width="1" height="30"/><rect x="1407" y="446" width="5" height="9"/><rect x="1408" y="447" width="3" height="7" fill="#fff"/><rect x="1417" y="442" width="1" height="26"/><rect x="1415" y="445" width="5" height="15"/></g>
<rect x="1283" y="459" width="171" height="6" fill="#00ff00" shape-rendering="crispEdges"/>
<g shape-rendering="crispEdges" fill="#ff0000">
<rect x="904" y="550" width="10" height="1"/>
<rect x="1080" y="363" width="10" height="1"/>
<rect x="1075" y="460" width="10" height="1"/>
</g>
<g stroke="#ff0000" stroke-width="3.2" fill="#ff0000" stroke-linecap="round" stroke-linejoin="round">
<polyline points="1383,552 1406.5,431 1425,468" fill="none"/>
<polygon points="1406.5,428.5 1401.5,438.5 1410.5,437" stroke-width="1.5"/>
<polygon points="1426.3,470.5 1418.3,464.5 1426,458.8" stroke-width="1.5"/>
</g>
<polygon points="1423,22 1433,22 1428,27" fill="#b0b0b0"/>
<polygon points="0,28.5 3,32 0,32" fill="#000"/>
<text x="1490.8" y="468.5" font-size="20.4" letter-spacing="1.3" fill="#1cff1c" font-family="&quot;Liberation Sans&quot;, &quot;Noto Sans CJK SC&quot;, sans-serif">多空转折点</text>
</svg>
<div class="t" style="left:1689px;top:39px;">0.98105</div>
<div class="t" style="left:1689px;top:72px;">0.97565</div>
<div class="t" style="left:1689px;top:105px;">0.97040</div>
<div class="t" style="left:1689px;top:138px;">0.96515</div>
<div class="t" style="left:1689px;top:171px;">0.95990</div>
<div class="t" style="left:1689px;top:204px;">0.95450</div>
<div class="t" style="left:1689px;top:237px;">0.94925</div>
<div class="t" style="left:1689px;top:270px;">0.94400</div>
<div class="t" style="left:1689px;top:303px;">0.93875</div>
<div class="t" style="left:1689px;top:336px;">0.93335</div>
<div class="t" style="left:1689px;top:369px;">0.92810</div>
<div class="t" style="left:1689px;top:402px;">0.92285</div>
<div class="t" style="left:1689px;top:435px;">0.91760</div>
<div class="t" style="left:1689px;top:468px;">0.91220</div>
<div class="t" style="left:1689px;top:501px;">0.90695</div>
<div class="t" style="left:1689px;top:534px;">0.90170</div>
<div class="t" style="left:1689px;top:567px;">0.89645</div>
<div class="t" style="left:1687px;top:579px;">0.004351</div>
<div class="t" style="left:1688px;top:626px;">0.00</div>
<div class="t" style="left:1687px;top:735px;">-0.009504</div>
<div class="t" style="left:1687px;top:751px;">100</div>
<div class="t" style="left:1687px;top:780px;">80</div>
<div class="t" style="left:1687px;top:831px;">50</div>
<div class="t" style="left:1687px;top:892px;">15</div>
<div class="t" style="left:1687px;top:911px;">0</div>
<div class="pl" style="top:395px;background:#ff0000;">0.92367</div>
<div class="pl" style="top:415px;background:#ff0000;">0.92047</div>
<div class="pl" style="top:455px;background:#ffa500;">0.91424</div>
<div class="pl" style="top:475px;background:#0000ff;">0.91104</div>
<div class="pl" style="top:497px;background:#0000ff;">0.90752</div>
<div class="t" style="left:-8px;top:927px;">19 Apr 2020</div>
<div class="t" style="left:56px;top:927px;">28 Apr 2020</div>
<div class="t" style="left:120px;top:927px;">7 May 2020</div>
<div class="t" style="left:184px;top:927px;">17 May 2020</div>
<div class="t" style="left:248px;top:927px;">26 May 2020</div>
<div class="t" style="left:312px;top:927px;">4 Jun 2020</div>
<div class="t" style="left:376px;top:927px;">14 Jun 2020</div>
<div class="t" style="left:440px;top:927px;">23 Jun 2020</div>
<div class="t" style="left:504px;top:927px;">2 Jul 2020</div>
<div class="t" style="left:568px;top:927px;">12 Jul 2020</div>
<div class="t" style="left:632px;top:927px;">21 Jul 2020</div>
<div class="t" style="left:696px;top:927px;">30 Jul 2020</div>
<div class="t" style="left:760px;top:927px;">9 Aug 2020</div>
<div class="t" style="left:824px;top:927px;">18 Aug 2020</div>
<div class="t" style="left:888px;top:927px;">27 Aug 2020</div>
<div class="t" style="left:952px;top:927px;">6 Sep 2020</div>
<div class="t" style="left:1016px;top:927px;">15 Sep 2020</div>
<div class="t" style="left:1080px;top:927px;">24 Sep 2020</div>
<div class="t" style="left:1144px;top:927px;">4 Oct 2020</div>
<div class="t" style="left:1208px;top:927px;">13 Oct 2020</div>
<div class="t" style="left:1272px;top:927px;">22 Oct 2020</div>
<div class="t" style="left:1336px;top:927px;">1 Nov 2020</div>
<div class="t" style="left:1400px;top:927px;">10 Nov 2020</div>
<div class="t" style="left:8px;top:25px;font-size:9.8px;letter-spacing:-0.21px;">USDCHF-,Daily&nbsp; 0.91661 0.91695 0.91308 0.91417</div>
<div class="t" style="left:-2px;top:581px;">MACD(12,26,9) -0.000199 -0.000947</div>
<div class="t" style="left:-2px;top:753px;">RSI(14) 53.2608</div>
<div class="lbl" style="left:842px;top:541px;width:62px;height:19px;font-size:16.5px;line-height:19px;letter-spacing:-0.45px;">0.89982</div>
<div class="lbl" style="left:1018px;top:354px;width:62px;height:19px;font-size:16.5px;line-height:19px;letter-spacing:-0.45px;">0.92977</div>
<div class="lbl" style="left:1084px;top:448px;width:74px;height:25px;overflow:hidden;"><div style="position:absolute;left:0.4px;top:0.6px;font-size:23px;line-height:24px;transform:scaleX(0.85);transform-origin:0 0;">0.91424</div></div>
<svg width="1730" height="940" viewBox="0 0 1730 940" shape-rendering="crispEdges"><rect x="1153" y="433" width="1" height="27"/><rect x="1151" y="437" width="5" height="19"/></svg>
<div class="abs" style="left:0;top:40px;width:216px;height:67px;background:#fff;"></div>
<div class="abs" style="left:0;top:65px;width:105px;height:40px;background:linear-gradient(#de3030,#c81a1a 55%,#ad0000);border-top:1px solid #b40000;border-right:1px solid #b40000;box-sizing:border-box;"></div>
<div class="abs" style="left:107px;top:65px;width:108px;height:40px;background:linear-gradient(#de3030,#c81a1a 55%,#ad0000);border-top:1px solid #b40000;border-left:1px solid #b40000;border-right:1px solid #b40000;box-sizing:border-box;"></div>
<div class="abs" style="left:0;top:41px;width:48px;height:25px;background:linear-gradient(#fa5252,#ee4040 55%,#e23434);border-top:1px solid #b40000;border-right:1px solid #b40000;box-sizing:border-box;"></div>
<div class="abs" style="left:163px;top:41px;width:52px;height:25px;background:linear-gradient(#fa5252,#ee4040 55%,#e23434);border-top:1px solid #b40000;border-left:1px solid #b40000;border-right:1px solid #b40000;box-sizing:border-box;"></div>
<div class="abs" style="left:0;top:64px;width:44px;height:1px;background:#b40000;"></div><div class="abs" style="left:0;top:65px;width:44px;height:1px;background:#f47070;"></div>
<div class="abs" style="left:167px;top:64px;width:44px;height:1px;background:#b40000;"></div><div class="abs" style="left:167px;top:65px;width:44px;height:1px;background:#f47070;"></div>
<div class="abs" style="left:50px;top:41px;width:111px;height:22px;background:#fff;border:1px solid #a4a8b0;box-sizing:border-box;"></div>
<div class="abs" style="left:52px;top:43px;width:18px;height:18px;background:linear-gradient(#f0f0f0,#e4e4e4 48%,#d6d6d6 52%,#d2d2d2);"></div>
<div class="abs" style="left:141px;top:43px;width:18px;height:18px;background:linear-gradient(#f0f0f0,#e4e4e4 48%,#d6d6d6 52%,#d2d2d2);"></div>
<div class="abs" style="left:71px;top:42px;width:1px;height:20px;background:#a4a8b0;"></div><div class="abs" style="left:139px;top:42px;width:1px;height:20px;background:#a4a8b0;"></div>
<svg width="215" height="110" style="left:0;top:0"><polygon points="57.7,50.2 63.3,50.2 60.5,53.4" fill="#4a5cc4"/><polygon points="146.7,53.4 152.3,53.4 149.5,50.2" fill="#4a5cc4"/></svg>
<div class="abs" style="left:100px;top:44px;width:36.2px;text-align:right;font-size:12.4px;line-height:16px;letter-spacing:-0.25px;">1.00</div>
<div class="abs" style="left:8px;top:44.6px;font-size:12.4px;line-height:16px;color:#fff;transform:scaleX(0.85);transform-origin:0 0;">SELL</div>
<div class="abs" style="left:176.6px;top:44.6px;font-size:12.4px;line-height:16px;color:#fff;transform:scaleX(0.9);transform-origin:0 0;">BUY</div>
<div class="abs" style="left:15.5px;top:85.8px;font-size:12.5px;line-height:12px;font-weight:bold;color:#fff;">0.91</div>
<div class="abs" style="left:42.8px;top:64.15px;font-size:34.5px;line-height:40px;color:#fff;letter-spacing:-2.2px;">41</div>
<div class="abs" style="left:82.8px;top:70px;font-size:12.5px;line-height:12px;font-weight:bold;color:#fff;">7</div>
<div class="abs" style="left:125.6px;top:85.8px;font-size:12.5px;line-height:12px;font-weight:bold;color:#fff;">0.91</div>
<div class="abs" style="left:154.8px;top:64.15px;font-size:34.5px;line-height:40px;color:#fff;letter-spacing:-2.2px;">53</div>
<div class="abs" style="left:193.6px;top:70px;font-size:12.5px;line-height:12px;font-weight:bold;color:#fff;">4</div>
<svg width="1730" height="17" viewBox="0 0 1730 17" style="left:0;top:0;overflow:hidden">
<defs>
<linearGradient id="gg" x1="0" y1="0" x2="0" y2="1"><stop offset="0" stop-color="#5fe05f"/><stop offset="1" stop-color="#0a9a0a"/></linearGradient>
<linearGradient id="gold" x1="0" y1="0" x2="0.7" y2="1"><stop offset="0" stop-color="#fae050"/><stop offset="0.55" stop-color="#e8b828"/><stop offset="1" stop-color="#b88410"/></linearGradient>
<pattern id="chk" width="2" height="2" patternUnits="userSpaceOnUse"><rect width="2" height="2" fill="#f6f6f6"/><rect width="1" height="1" fill="#fdfdfd"/><rect x="1" y="1" width="1" height="1" fill="#fdfdfd"/></pattern>
<linearGradient id="cl" x1="0" y1="0" x2="0" y2="1"><stop offset="0" stop-color="#ffffff"/><stop offset="0.5" stop-color="#eef2fa"/><stop offset="1" stop-color="#a8b8d8"/></linearGradient>
</defs>
<rect x="-2" y="-3" width="8" height="14" fill="#fff" stroke="#3a78c8" stroke-width="1.2"/><rect x="0" y="2" width="5" height="1" fill="#a8c8f0"/><rect x="0" y="5" width="5" height="1" fill="#a8c8f0"/><rect x="0" y="8" width="5" height="1" fill="#a8c8f0"/>
<rect x="20" y="-2" width="10" height="12" fill="#f4f0e8" stroke="#b0a898" stroke-width="0.8"/>
<line x1="30.5" y1="9" x2="35.5" y2="13.5" stroke="#c89820" stroke-width="2.4" stroke-linecap="round"/>
<circle cx="27.2" cy="5.2" r="4.6" fill="#c4dcf4" fill-opacity="0.85" stroke="#6a98d8" stroke-width="1.1"/><rect x="26" y="2" width="2" height="5" fill="#8898b0" opacity="0.7"/>
<rect x="44" y="0" width="1" height="15" fill="#9a9a9a" shape-rendering="crispEdges"/>
<path d="M54.5,-2h8l2.5,2.5v10h-10.5z" fill="#fcfcfc" stroke="#909090" stroke-width="0.9"/><rect x="56.5" y="2" width="6" height="1" fill="#707070"/><rect x="56.5" y="4.5" width="4" height="1" fill="#707070"/>
<path d="M62.39999999999999,3.1000000000000005h3.4v4.1h4.1v3.4h-4.1v4.1h-3.4v-4.1h-4.1v-3.4h4.1z" fill="url(#gg)" stroke="#087808" stroke-width="0.7"/>
<text x="73" y="7.8" font-size="12" letter-spacing="0.1" fill="#000" font-family="&quot;Liberation Sans&quot;, &quot;Noto Sans CJK SC&quot;, sans-serif">新订单</text>
<path d="M121,6.7 L125.5,-1 L131.5,-1 L137,6 L128.9,12.8 Z" fill="#a87818"/><path d="M121,6 L125.5,-1.5 L131.5,-1.5 L136.6,5 L128.6,11.4 Z" fill="url(#gold)"/><path d="M122.5,7.8 L128.8,12.2 L136.6,6" fill="none" stroke="#efe2b0" stroke-width="0.8"/>
<rect x="151.4" y="-2" width="10.8" height="8.4" fill="#1e96f6"/><rect x="156.6" y="1.4" width="4" height="1.1" fill="#e8f4ff"/><rect x="154.2" y="-2" width="1" height="7" fill="#66b8fa"/>
<path d="M151.8,12.5 a2.7,2.7 0 0 1 -0.2,-5.4 a3.3,3.3 0 0 1 6,-1 a3,3 0 0 1 4.8,2 a2.3,2.3 0 0 1 -0.4,4.4 z" fill="url(#cl)" stroke="#6c88bc" stroke-width="0.9"/>
<g fill="none" stroke-width="1.1"><path d="M185.3,-3.4 a8,8 0 0 0 0,16" stroke="#b8ccf0"/><path d="M185.3,-1 a5.6,5.6 0 0 0 0,11.2" stroke="#7498e4"/><path d="M185.3,1.4 a3.2,3.2 0 0 0 0,6.4" stroke="#4a78dc"/><path d="M185.3,-3.4 a8,8 0 0 1 0,16" stroke="#b4d8b4" stroke-width="2.2"/><path d="M185.3,-0.6 a5.2,5.2 0 0 1 0,10.4" stroke="#7cb87c" stroke-width="2"/></g><path d="M185.4,4.8 L185.4,12.6 A7.8,7.8 0 0 0 192.6,7 Z" fill="#58b058" opacity="0.75"/><circle cx="185.1" cy="4.6" r="1.5" fill="#3060d0"/><rect x="184.9" y="4.4" width="1.1" height="8.4" fill="#18a018"/>
<path d="M204.5,3.4 L219.5,3.4 L213.5,12.5 L211,12.5 Z" fill="#f4d63a" stroke="#c8a010" stroke-width="0.6"/><ellipse cx="212" cy="1" rx="7.8" ry="3.2" fill="#58a8e8" stroke="#2c78c0" stroke-width="0.7"/><ellipse cx="212" cy="-0.6" rx="4" ry="1.6" fill="#b8e0fc"/>
<circle cx="216.7" cy="8.8" r="4.1" fill="#e02814" stroke="#b01808" stroke-width="0.6"/><rect x="214.9" y="7" width="3.6" height="3.6" fill="#fff"/>
<text x="225.6" y="7.8" font-size="11.8" letter-spacing="-0.3" fill="#000" font-family="&quot;Liberation Sans&quot;, &quot;Noto Sans CJK SC&quot;, sans-serif">自动交易</text>
<rect x="280" y="0" width="1" height="17" fill="#9a9a9a" shape-rendering="crispEdges"/>
<rect x="284" y="1" width="3" height="1" fill="#a8a8a8" shape-rendering="crispEdges"/>
<rect x="284" y="3" width="3" height="1" fill="#a8a8a8" shape-rendering="crispEdges"/>
<rect x="284" y="5" width="3" height="1" fill="#a8a8a8" shape-rendering="crispEdges"/>
<rect x="284" y="7" width="3" height="1" fill="#a8a8a8" shape-rendering="crispEdges"/>
<rect x="284" y="9" width="3" height="1" fill="#a8a8a8" shape-rendering="crispEdges"/>
<rect x="284" y="11" width="3" height="1" fill="#a8a8a8" shape-rendering="crispEdges"/>
<rect x="284" y="13" width="3" height="1" fill="#a8a8a8" shape-rendering="crispEdges"/>
<g stroke="#404040" stroke-width="1.1" fill="#404040"><line x1="298.4" y1="0" x2="298.4" y2="12.8"/><line x1="295.9" y1="10.6" x2="308.9" y2="10.6"/><polygon points="307.9,9.2 310.09999999999997,10.6 307.9,12" stroke="none"/></g>
<g stroke="#109010" stroke-width="1.2" fill="none"><path d="M304.7,0V8.4M304.7,1.3h2.3M302.3,7.5h2.4"/></g>
<rect x="318" y="0" width="1" height="15" fill="#9a9a9a" shape-rendering="crispEdges"/>
<rect x="319.5" y="0" width="23.5" height="15" fill="url(#chk)"/>
<g stroke="#404040" stroke-width="1.1" fill="#404040"><line x1="326.5" y1="0" x2="326.5" y2="12.8"/><line x1="324.0" y1="10.6" x2="337.0" y2="10.6"/><polygon points="336.0,9.2 338.2,10.6 336.0,12" stroke="none"/></g>
<rect x="330.2" y="-2" width="4.6" height="8.7" fill="url(#gg)" stroke="#0c8c0c" stroke-width="0.6"/><rect x="332" y="6.7" width="1.1" height="2.2" fill="#109010"/>
<g stroke="#404040" stroke-width="1.1" fill="#404040"><line x1="354.6" y1="0" x2="354.6" y2="12.8"/><line x1="352.1" y1="10.6" x2="365.1" y2="10.6"/><polygon points="364.1,9.2 366.3,10.6 364.1,12" stroke="none"/></g>
<path d="M353,8 C356,5 357.5,2 359.5,2.2 S363,5.5 365,6.2" fill="none" stroke="#2a9a2a" stroke-width="1.2"/>
<rect x="375" y="0" width="1" height="15" fill="#9a9a9a" shape-rendering="crispEdges"/>
<line x1="394.6" y1="7.3" x2="399" y2="11.8" stroke="#d4a418" stroke-width="2.6" stroke-linecap="square"/>
<circle cx="390" cy="2.9" r="5.6" fill="#cfe6fc" stroke="#3a78c8" stroke-width="1.2"/>
<rect x="386.7" y="2.1" width="6.6" height="1.7" fill="#2c68b8"/>
<rect x="389.15" y="-0.4" width="1.7" height="6.6" fill="#2c68b8"/>
<line x1="422.5" y1="7.3" x2="426.9" y2="11.8" stroke="#d4a418" stroke-width="2.6" stroke-linecap="square"/>
<circle cx="417.9" cy="2.9" r="5.6" fill="#cfe6fc" stroke="#3a78c8" stroke-width="1.2"/>
<rect x="414.59999999999997" y="2.1" width="6.6" height="1.7" fill="#2c68b8"/>
<rect x="440.3" y="-2" width="7.4" height="7.2" rx="0.8" fill="#58b828" stroke="#3c9810" stroke-width="0.7"/><rect x="441.8" y="0.6000000000000001" width="4.4" height="2.8" fill="#fff" opacity="0.9"/><rect x="442.6" y="1.6" width="2.8" height="0.9" fill="#58b828"/>
<rect x="448.6" y="-2" width="7.4" height="7.2" rx="0.8" fill="#3c6cdc" stroke="#2048b8" stroke-width="0.7"/><rect x="450.1" y="0.6000000000000001" width="4.4" height="2.8" fill="#fff" opacity="0.9"/><rect x="450.90000000000003" y="1.6" width="2.8" height="0.9" fill="#3c6cdc"/>
<rect x="440.3" y="5.3" width="7.4" height="7.2" rx="0.8" fill="#3c6cdc" stroke="#2048b8" stroke-width="0.7"/><rect x="441.8" y="7.9" width="4.4" height="2.8" fill="#fff" opacity="0.9"/><rect x="442.6" y="8.9" width="2.8" height="0.9" fill="#3c6cdc"/>
<rect x="448.6" y="5.3" width="7.4" height="7.2" rx="0.8" fill="#58b828" stroke="#3c9810" stroke-width="0.7"/><rect x="450.1" y="7.9" width="4.4" height="2.8" fill="#fff" opacity="0.9"/><rect x="450.90000000000003" y="8.9" width="2.8" height="0.9" fill="#58b828"/>
<rect x="465" y="0" width="1" height="15" fill="#9a9a9a" shape-rendering="crispEdges"/>
<rect x="470" y="0" width="1" height="15" fill="#9a9a9a" shape-rendering="crispEdges"/>
<rect x="471" y="0" width="23.5" height="15" fill="url(#chk)"/>
<g stroke="#404040" stroke-width="1.1" fill="#404040"><line x1="478.4" y1="0" x2="478.4" y2="12.8"/><line x1="475.9" y1="10.6" x2="488.9" y2="10.6"/><polygon points="487.9,9.2 490.09999999999997,10.6 487.9,12" stroke="none"/></g>
<polygon points="483.3,1.4 483.3,7.8 487.2,4.6" fill="#d8f4d8" stroke="#18a018" stroke-width="1"/>
<rect x="498" y="0" width="1" height="15" fill="#9a9a9a" shape-rendering="crispEdges"/>
<rect x="499" y="0" width="23.5" height="15" fill="url(#chk)"/>
<g stroke="#404040" stroke-width="1.1" fill="#404040"><line x1="506.6" y1="0" x2="506.6" y2="12.8"/><line x1="504.1" y1="10.6" x2="517.1" y2="10.6"/><polygon points="516.1,9.2 518.3000000000001,10.6 516.1,12" stroke="none"/></g>
<rect x="512" y="0" width="1.1" height="8.8" fill="#2878c0"/><path d="M513.6,4.6h4.2M513.6,4.6l2.4,-2.2M513.6,4.6l2.4,2.2" stroke="#e05010" stroke-width="1.1" fill="none"/>
<rect x="527" y="0" width="1" height="15" fill="#9a9a9a" shape-rendering="crispEdges"/>
<path d="M537.5,-2h8l2.5,2.5v10h-10.5z" fill="#fcfcfc" stroke="#909090" stroke-width="0.9"/><rect x="539.5" y="1" width="5" height="3.4" fill="none" stroke="#606060" stroke-width="0.8"/>
<path d="M545.2,3h3.6v4.2h4.2v3.6h-4.2v4.2h-3.6v-4.2h-4.2v-3.6h4.2z" fill="url(#gg)" stroke="#087808" stroke-width="0.7"/>
<polygon points="558.8,4.1 564.8,4.1 561.8,7.3999999999999995" fill="#000"/>
<circle cx="583" cy="4.6" r="7" fill="#fdfdff" stroke="#1c6cd4" stroke-width="2.4"/><circle cx="583" cy="4.6" r="8.1" fill="none" stroke="#0c4cac" stroke-width="0.5"/><path d="M583,0.5V4.8H586.2" fill="none" stroke="#505050" stroke-width="1"/>
<polygon points="597.7,4 603.7,4 600.7,7.3" fill="#000"/>
<rect x="614.3" y="-2" width="15.6" height="13.6" rx="1" fill="#fff" stroke="#3c7cc4" stroke-width="1.2"/><rect x="614.3" y="5.4" width="15.6" height="1" fill="#3c7cc4"/><path d="M616,3.6l2,-0.2 2,-1.6 2,0.8 2,-0.6 2,0.2 2,-1.4" fill="none" stroke="#b02010" stroke-width="1.1"/><path d="M617,9.6l2,-0.4 2,-1.4 2,0.8 2,-1.8 2,0.6 1,1.4" fill="none" stroke="#18a018" stroke-width="1.1"/>
<polygon points="636.6,4 642.6,4 639.6,7.3" fill="#000"/>
<rect x="648" y="0" width="1" height="17" fill="#9a9a9a" shape-rendering="crispEdges"/>
<rect x="652" y="1" width="3" height="1" fill="#a8a8a8" shape-rendering="crispEdges"/>
<rect x="652" y="3" width="3" height="1" fill="#a8a8a8" shape-rendering="crispEdges"/>
<rect x="652" y="5" width="3" height="1" fill="#a8a8a8" shape-rendering="crispEdges"/>
<rect x="652" y="7" width="3" height="1" fill="#a8a8a8" shape-rendering="crispEdges"/>
<rect x="652" y="9" width="3" height="1" fill="#a8a8a8" shape-rendering="crispEdges"/>
<rect x="652" y="11" width="3" height="1" fill="#a8a8a8" shape-rendering="crispEdges"/>
<rect x="652" y="13" width="3" height="1" fill="#a8a8a8" shape-rendering="crispEdges"/>
<rect x="658" y="0" width="1" height="15" fill="#9a9a9a" shape-rendering="crispEdges"/>
<rect x="659.5" y="0" width="23.5" height="15" fill="url(#chk)"/>
<path d="M666.2,-2 L666.2,9 L668.8,6.8 L671.2,12 L673.2,11.1 L670.8,6.1 L674.2,5.9 Z" fill="#505050"/>
<g fill="#606060" shape-rendering="crispEdges"><rect x="691" y="5" width="15" height="1"/><rect x="698" y="0" width="1" height="13"/></g><rect x="697" y="4" width="3" height="3" fill="#f0f0f0"/><rect x="698" y="5" width="1" height="1" fill="#606060"/>
<rect x="715" y="0" width="1" height="15" fill="#9a9a9a" shape-rendering="crispEdges"/>
<g fill="#505050" shape-rendering="crispEdges"><rect x="732" y="0" width="1" height="12"/><rect x="755" y="5" width="12" height="1"/></g>
<line x1="783" y1="11.8" x2="795.6" y2="0" stroke="#505050" stroke-width="1.1"/>
<g stroke="#505050" stroke-width="1" fill="none"><path d="M809,7 L819,-1 M811,11 L823,1.5 M813.5,12 L823.5,4"/><path d="M811.5,5 l1.5,5 M814.5,2.6 l1.5,5 M817.5,0.4 l1.5,5" stroke-width="0.8"/></g>
<path d="M820.2,9.3h3.6v1h-2.4v0.9h2.2v1h-2.2v0.9h2.4v1h-3.6z" fill="#404040"/>
<line x1="838" y1="1.5" x2="851" y2="1.5" stroke="#505050" stroke-width="1" stroke-dasharray="1 1" shape-rendering="crispEdges"/>
<line x1="838" y1="5.5" x2="851" y2="5.5" stroke="#505050" stroke-width="1" stroke-dasharray="1 1" shape-rendering="crispEdges"/>
<line x1="838" y1="9.5" x2="847" y2="9.5" stroke="#505050" stroke-width="1" stroke-dasharray="1 1" shape-rendering="crispEdges"/>
<path d="M848.2,9.3h3.6v1h-2.4v1h2.1v1h-2.1v1.7h-1.2z" fill="#404040"/>
<g fill="#505050"><polygon points="922.5,2 926,-2 929.5,2 926,3.6"/><polygon points="929.5,8 933,6.4 936.2,8 933,12"/></g><path d="M924.5,5.5l2.5,2.5 4.5,-5.5" fill="none" stroke="#505050" stroke-width="1.2"/>
<polygon points="942.6,4 948.6,4 945.6,7.3" fill="#000"/>
<rect x="954" y="0" width="1" height="17" fill="#9a9a9a" shape-rendering="crispEdges"/>
<rect x="958" y="1" width="3" height="1" fill="#a8a8a8" shape-rendering="crispEdges"/>
<rect x="958" y="3" width="3" height="1" fill="#a8a8a8" shape-rendering="crispEdges"/>
<rect x="958" y="5" width="3" height="1" fill="#a8a8a8" shape-rendering="crispEdges"/>
<rect x="958" y="7" width="3" height="1" fill="#a8a8a8" shape-rendering="crispEdges"/>
<rect x="958" y="9" width="3" height="1" fill="#a8a8a8" shape-rendering="crispEdges"/>
<rect x="958" y="11" width="3" height="1" fill="#a8a8a8" shape-rendering="crispEdges"/>
<rect x="958" y="13" width="3" height="1" fill="#a8a8a8" shape-rendering="crispEdges"/>
<rect x="1133.5" y="0" width="24" height="15" fill="url(#chk)"/>
<rect x="1132" y="0" width="1" height="15" fill="#9a9a9a" shape-rendering="crispEdges"/>
<rect x="1215" y="0" width="1" height="15" fill="#9a9a9a" shape-rendering="crispEdges"/>
<line x1="1682.6" y1="5.8" x2="1678.4" y2="9.6" stroke="#1c5cd8" stroke-width="2.5" stroke-linecap="round"/><circle cx="1685.5" cy="2.2" r="3.8" fill="#f6f8ff" stroke="#1c5cd8" stroke-width="1.3"/>
<ellipse cx="1718.3" cy="2.8" rx="6.3" ry="4.4" fill="#ececf4" stroke="#a4a4a4" stroke-width="0.9"/><polygon points="1719,6.6 1721.4,8.8 1721.6,6" fill="#606060"/>
<ellipse cx="1709.2" cy="6.1" rx="5" ry="3.6" fill="#f4f4fc" stroke="#8c8c8c" stroke-width="0.9"/><polygon points="1706.4,8.8 1706.4,11.6 1708.6,9.4" fill="#606060"/>
</svg>
<div class="abs" style="left:868.6px;top:-1.3px;font-size:12.2px;line-height:14px;color:#505050;">A</div>
<div class="abs" style="left:895px;top:1px;width:12px;height:11px;border:1px dotted #606060;box-sizing:border-box;"></div>
<div class="abs" style="left:897.4px;top:0px;font-size:11px;line-height:13px;color:#505050;">T</div>
<div class="tf" style="left:969.4px;top:1px;font-size:9.8px;letter-spacing:-0.3px;">M1</div>
<div class="tf" style="left:997.4px;top:1px;font-size:9.8px;letter-spacing:-0.3px;">M5</div>
<div class="tf" style="left:1023.6px;top:1px;font-size:9.8px;letter-spacing:-0.3px;">M15</div>
<div class="tf" style="left:1051.6px;top:1px;font-size:9.8px;letter-spacing:-0.3px;">M30</div>
<div class="tf" style="left:1082.6px;top:1px;font-size:9.8px;letter-spacing:-0.3px;">H1</div>
<div class="tf" style="left:1109.9px;top:1px;font-size:9.8px;letter-spacing:-0.3px;">H4</div>
<div class="tf" style="left:1138.6px;top:1px;font-size:9.8px;letter-spacing:-0.3px;">D1</div>
<div class="tf" style="left:1166px;top:1px;font-size:9.8px;letter-spacing:-0.3px;">W1</div>
<div class="tf" style="left:1192.8px;top:1px;font-size:9.8px;letter-spacing:-0.3px;">MN</div>
</body></html>
